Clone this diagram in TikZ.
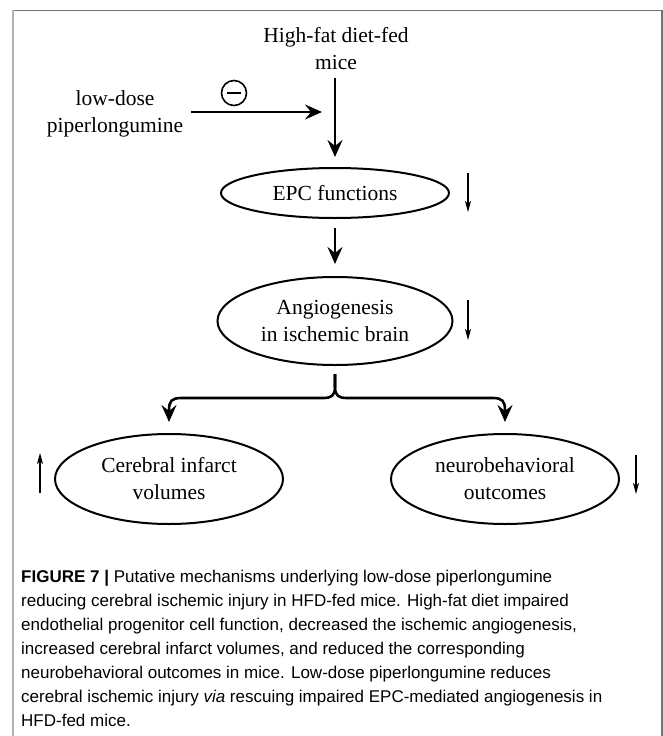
\documentclass[tikz,border=0pt]{standalone}
\usepackage{fontspec}
\setmainfont{Liberation Serif}
\newfontfamily\capfont{Liberation Sans}
\usetikzlibrary{arrows.meta,shapes.geometric,calc}
\begin{document}
\begin{tikzpicture}[x=1pt,y=-1pt,
  lbl/.style={font=\fontsize{21.5}{27}\selectfont, align=center, inner sep=0pt},
  oval/.style={ellipse, draw, line width=2pt, inner sep=0pt, font=\fontsize{21.5}{27}\selectfont, align=center},
  bigarrow/.style={line width=2.6pt, -{Stealth[length=17pt,width=15pt,inset=6pt]}},
  thinarrow/.style={line width=1.1pt, -{Stealth[length=11pt,width=6pt,inset=3pt]}},
  captxt/.style={font=\capfont\fontsize{17}{24}\selectfont, anchor=base west, inner sep=0pt}]
\useasboundingbox (0,0) rectangle (663,736);
% frame
\draw[color=black!55, line width=1.4pt] (12,10.5) -- (662,10.5) -- (662,736);
\draw[color=black!30, line width=2pt] (12.5,10) -- (12.5,736);
% nodes
\node[lbl] (hfd) at (336,48.5) {High-fat diet-fed\\mice};
\node[lbl] (pip) at (115,114) {low-dose\\piperlongumine};
\node[draw, circle, minimum size=25pt, line width=1.6pt, inner sep=0pt] (minus) at (234,93) {};
\draw[line width=1.6pt] ([xshift=-7pt]minus.center) -- ([xshift=7pt]minus.center);
\node[oval, minimum width=228pt, minimum height=50pt] (epc) at (335,193) {EPC functions};
\node[oval, minimum width=235pt, minimum height=88pt] (ang) at (335,321) {Angiogenesis\\in ischemic brain};
\node[oval, minimum width=228pt, minimum height=90pt] (cer) at (169,479) {Cerebral infarct\\volumes};
\node[oval, minimum width=228pt, minimum height=90pt] (neu) at (505,479) {neurobehavioral\\outcomes};
% connectors
\coordinate (j) at (335,112);
\draw[bigarrow, shorten <=8pt, shorten >=10pt] (hfd.south -| epc.north) -- (epc.north);
\draw[bigarrow, shorten <=8pt, shorten >=13pt] (pip.east |- j) -- (j);
\draw[bigarrow, shorten <=9pt, shorten >=12pt] (epc.south) -- (ang.north);
\coordinate (bt) at ($(ang.south)+(0,8)$);
\draw[line width=2.6pt, -{Stealth[length=17pt,width=15pt,inset=6pt]}, shorten >=11pt]
  (bt) -- (335,387) .. controls (335,396) and (331,398) .. (323,398) -- (181,398)
  .. controls (172,398) and (169,401) .. (169,410) -- (cer.north);
\draw[line width=2.6pt, -{Stealth[length=17pt,width=15pt,inset=6pt]}, shorten >=11pt]
  (bt) -- (335,387) .. controls (335,396) and (339,398) .. (347,398) -- (493,398)
  .. controls (502,398) and (505,401) .. (505,410) -- (neu.north);
% indicator arrows
\coordinate (e1) at (468,173); \coordinate (e2) at (468,212);
\draw[thinarrow] (e1) -- (e2);
\coordinate (a1) at (468,300); \coordinate (a2) at (468,340);
\draw[thinarrow] (a1) -- (a2);
\coordinate (c1) at (40,493); \coordinate (c2) at (40,453);
\draw[thinarrow] (c1) -- (c2);
\coordinate (n1) at (636,455); \coordinate (n2) at (636,494);
\draw[thinarrow] (n1) -- (n2);
% caption
\node[captxt] (cap1) at (21,582) {\textbf{FIGURE 7 |} Putative mechanisms underlying low-dose piperlongumine};
\node[captxt] (cap2) at (21,606) {reducing cerebral ischemic injury in HFD-fed mice. High-fat diet impaired};
\node[captxt] (cap3) at (21,630) {endothelial progenitor cell function, decreased the ischemic angiogenesis,};
\node[captxt] (cap4) at (21,654) {increased cerebral infarct volumes, and reduced the corresponding};
\node[captxt] (cap5) at (21,678) {neurobehavioral outcomes in mice. Low-dose piperlongumine reduces};
\node[captxt] (cap6) at (21,702) {cerebral ischemic injury \textit{via} rescuing impaired EPC-mediated angiogenesis in};
\node[captxt] (cap7) at (21,726) {HFD-fed mice.};
\end{tikzpicture}
\end{document}
